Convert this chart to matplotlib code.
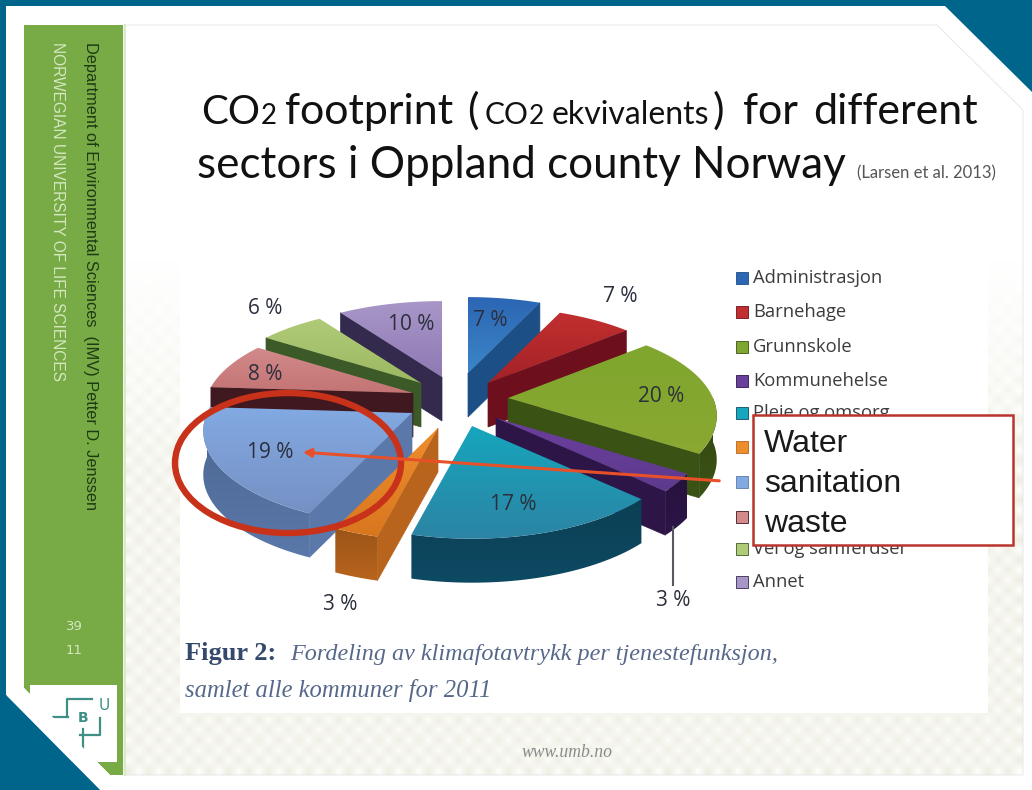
#!/usr/bin/env python3
# -*- coding: utf-8 -*-
"""
CO2 footprint slide with an exploded 3D pie per municipal sector
"""

import matplotlib
matplotlib.use('Agg')
import matplotlib.pyplot as plt
from matplotlib.patches import Ellipse, PathPatch, Polygon, Rectangle
from matplotlib.path import Path
import matplotlib.colors as mcolors
import numpy as np

# sector shares in percent, clockwise from twelve o'clock
shares = [7, 7, 20, 3, 17, 3, 19, 8, 6, 10]

# three entries sit behind the callout box and have no readable label
legend_labels = ['Administrasjon', 'Barnehage', 'Grunnskole', 'Kommunehelse',
                 'Pleie og omsorg', '', '', '', 'Vei og samferdsel', 'Annet']
callout_lines = ['Water', 'sanitation', 'waste']

top_light = ['#2c66b4', '#c22f30', '#7fa62e', '#6b3f9c', '#16a6bd',
             '#ee8d2c', '#82aae2', '#d28a8a', '#b0cb78', '#a896c8']
top_dark = ['#3b86c8', '#a32226', '#8aa832', '#5e3a8e', '#2c84a4',
            '#d9771f', '#7690c4', '#c47474', '#9cb862', '#8f7ab4']
side_colors = ['#1b4f86', '#6d0f1c', '#3b5215', '#2d1548', '#0d4a63',
               '#b8641c', '#5a78aa', '#40181f', '#3c5a28', '#332a4e']

# slice tips on the slide, in pixels
tips = [(468, 373), (488, 383), (508, 398), (496, 418), (472, 426),
        (438, 428), (412, 413), (413, 393), (421, 383), (442, 377)]
# back to front
draw_order = [0, 9, 8, 7, 1, 2, 3, 6, 5, 4]

label_pos = [(490, 321), (620, 297), (661, 396), (673, 600), (513, 504),
             (340, 605), (270, 452), (265, 374), (265, 308), (411, 324)]
legend_y = [280, 314, 349, 383, 415, 449, 484, 519, 551, 584]

TILT = 0.46
DEPTH = 44


def outer_radius(theta):
    # slices towards the viewer come out longer
    return 205 - 40 * np.cos(theta)


def rim(tip, theta):
    r = outer_radius(theta)
    return np.column_stack([tip[0] + r * np.sin(theta),
                            tip[1] - TILT * r * np.cos(theta)])


def fill_gradient(ax, verts, c_top, c_bottom, zorder):
    # vertical gradient clipped to the polygon
    verts = np.asarray(verts)
    x0, x1 = verts[:, 0].min(), verts[:, 0].max()
    y0, y1 = verts[:, 1].min(), verts[:, 1].max()
    cmap = mcolors.LinearSegmentedColormap.from_list('g', [c_top, c_bottom])
    im = ax.imshow(np.linspace(0, 1, 64).reshape(-1, 1), cmap=cmap,
                   extent=(x0, x1, y1, y0), aspect='auto', zorder=zorder,
                   interpolation='bilinear')
    patch = PathPatch(Path(np.vstack([verts, verts[0]]), closed=True),
                      fc='none', ec='none', transform=ax.transData)
    ax.add_patch(patch)
    im.set_clip_path(patch)


def draw_pie(ax):
    edges = np.deg2rad(np.cumsum([0] + shares) * 3.6)
    z = 10
    for i in draw_order:
        t0, t1 = edges[i], edges[i + 1]
        tip = np.array(tips[i], dtype=float)
        drop = np.array([0, DEPTH])
        side = side_colors[i]

        # cut faces, only the ones turned towards the viewer
        if np.sin(t0) < 0:
            p = rim(tip, np.array([t0]))[0]
            ax.add_patch(Polygon([tip, p, p + drop, tip + drop], fc=side, ec=side, lw=0.5, zorder=z))
        if np.sin(t1) > 0:
            p = rim(tip, np.array([t1]))[0]
            ax.add_patch(Polygon([tip, p, p + drop, tip + drop], fc=side, ec=side, lw=0.5, zorder=z))

        # outer wall on the near half
        w0, w1 = max(t0, np.pi / 2), min(t1, 3 * np.pi / 2)
        if w1 > w0:
            arc = rim(tip, np.linspace(w0, w1, 40))
            wall = np.vstack([arc, (arc + drop)[::-1]])
            dark = np.array(mcolors.to_rgb(side)) * 0.85
            fill_gradient(ax, wall, mcolors.to_hex(dark), side, z + 0.2)

        arc = rim(tip, np.linspace(t0, t1, 60))
        fill_gradient(ax, np.vstack([tip, arc]), top_light[i], top_dark[i], z + 0.5)
        z += 1


def draw_frame(ax):
    ax.add_patch(Rectangle((0, 0), 1032, 790, fc='#00658a', ec='none', zorder=0))
    sheet = [(6, 6), (945, 6), (1032, 92), (1032, 790), (100, 790), (6, 695)]
    ax.add_patch(Polygon(sheet, fc='white', ec='none', zorder=1))

    # faint tile pattern in the slide margins, fading out upwards
    yy, xx = np.mgrid[0:54, 0:90]
    tile = ((xx + yy) % 2).astype(float)
    fade = np.clip((yy - 2) / 22.0, 0, 1)
    cmap = mcolors.LinearSegmentedColormap.from_list('t', ['#fdfdfa', '#eeeee4'])
    inner = [(124, 25), (937, 25), (1023, 110), (1023, 775), (124, 775)]
    im = ax.imshow(tile, cmap=cmap, extent=(124, 1023, 775, 235), aspect='auto',
                   zorder=1.1, interpolation='bilinear', alpha=fade)
    clip = Polygon(inner, fc='none', ec='none', transform=ax.transData)
    ax.add_patch(clip)
    im.set_clip_path(clip)
    ax.add_patch(Polygon(inner, fc='none', ec='#e4e4e4', lw=0.6, zorder=1.2))
    ax.add_patch(Rectangle((180, 245), 808, 468, fc='white', ec='none', zorder=1.3))

    # green side bar with its cut corner
    ax.add_patch(Polygon([(24, 25), (123, 25), (123, 775), (110, 775), (24, 688)],
                         fc='#78ab46', ec='none', zorder=2))
    ax.plot([125, 125], [25, 775], color='#d8ecc8', lw=1.5, zorder=2)

    ax.text(90, 42, 'Department of Environmental Sciences  (IMV) Petter D. Jenssen',
            rotation=270, ha='center', va='top', fontsize=11.8,
            family='Liberation Sans', color='#1d3a12', zorder=3)
    ax.text(57, 42, 'NORWEGIAN UNIVERSITY OF LIFE SCIENCES', rotation=270,
            ha='center', va='top', fontsize=11.2, family='Liberation Sans',
            color='#d5e8c0', zorder=3)
    ax.text(74, 627, '39', ha='center', va='center', fontsize=9.5, color='#d5e8c0', zorder=3)
    ax.text(74, 650, '11', ha='center', va='center', fontsize=9.5, color='#d5e8c0', zorder=3)

    # logo block, its lower corner is cut by the sheet edge below
    ax.add_patch(Rectangle((30, 685), 87, 77, fc='white', ec='none', zorder=3))
    logo = '#3f8f86'
    for xs, ys in [([92, 67, 67], [699, 699, 717]), ([53, 68], [717, 717]),
                   ([100, 100, 80], [718, 735, 735]), ([83, 83], [729, 752])]:
        ax.plot(xs, ys, color=logo, lw=1.6, zorder=3.1)
    ax.text(83, 718, 'B', ha='center', va='center', fontsize=10, weight='bold', color=logo, zorder=3.2)
    ax.text(104, 705, 'U', ha='center', va='center', fontsize=11, color=logo, zorder=3.2)
    ax.add_patch(Polygon([(6, 696), (24, 688), (115, 780), (112, 790), (100, 790)],
                         fc='white', ec='none', zorder=3.5))
    ax.add_patch(Polygon([(0, 695), (6, 695), (100, 790), (0, 790)],
                         fc='#00658a', ec='none', zorder=3.6))


def draw_title(ax):
    big, small = 31, 21.5
    kw = dict(family='Lato', color='#111111', va='baseline', zorder=5)
    for x, s, fs in [(201, 'CO', 29), (261, '2', 20), (285, 'footprint', big),
                     (467, '(', big), (485, 'CO', small), (529, '2', 19),
                     (552, 'ekvivalents', 23), (713, ')', big),
                     (743, 'for', big), (813, 'different', big)]:
        ax.text(x, 124, s, fontsize=fs, **kw)
    ax.text(197, 178, 'sectors i Oppland county Norway', fontsize=31.7, **kw)
    ax.text(857, 178, '(Larsen et al. 2013)', fontsize=12, family='Lato',
            color='#555555', va='baseline', zorder=5)


def draw_labels(ax):
    for v, (x, y) in zip(shares, label_pos):
        ax.text(x, y, f'{v} %', ha='center', va='center', fontsize=15,
                family='Open Sans', color='#2b2f3d', zorder=30)
    ax.plot([673, 673], [527, 585], color='#555a60', lw=1.5, zorder=29)

    for i, (lab, y) in enumerate(zip(legend_labels, legend_y)):
        ax.add_patch(Rectangle((736, y - 8), 12, 12, fc=top_light[i],
                               ec=side_colors[i], lw=0.6, zorder=30))
        if lab:
            ax.text(753, y - 2, lab, va='center', fontsize=13.2, family='Open Sans',
                    color='#3c3c3c', zorder=30)

    ax.text(185, 660, 'Figur 2:', fontsize=19, weight='bold', family='Liberation Serif',
            color='#34496b', zorder=30)
    ax.text(290, 660, 'Fordeling av klimafotavtrykk per tjenestefunksjon,', fontsize=17.4,
            style='italic', family='Liberation Serif', color='#56688a', zorder=30)
    ax.text(185, 697, 'samlet alle kommuner for 2011', fontsize=17.7, style='italic',
            family='Liberation Serif', color='#56688a', zorder=30)
    ax.text(567, 757, 'www.umb.no', ha='center', fontsize=12.7, style='italic',
            family='Liberation Serif', color='#8a8a8a', zorder=30)


def draw_callout(ax):
    ax.add_patch(Ellipse((288, 463), 226, 140, fc='none', ec='#c8321a', lw=4.6, zorder=40))
    ax.annotate('', xy=(300, 452), xytext=(722, 481), zorder=41,
                arrowprops=dict(arrowstyle='-|>', color='#e8502a', lw=2.2, mutation_scale=12))
    ax.add_patch(Rectangle((753, 415), 260, 130, fc='white', ec='#b9342c', lw=1.8, zorder=42))
    for s, y in zip(callout_lines, [452, 492, 532]):
        ax.text(764, y, s, fontsize=23, family='Liberation Sans', color='#1a1a1a',
                va='baseline', zorder=43)


if __name__ == "__main__":
    fig = plt.figure(figsize=(10.32, 7.9), dpi=100)
    ax = fig.add_axes([0, 0, 1, 1])
    draw_frame(ax)
    draw_title(ax)
    draw_pie(ax)
    draw_labels(ax)
    draw_callout(ax)
    ax.set_xlim(0, 1032)
    ax.set_ylim(790, 0)
    ax.axis('off')
    fig.savefig('out.png', dpi=100)
    plt.close(fig)
